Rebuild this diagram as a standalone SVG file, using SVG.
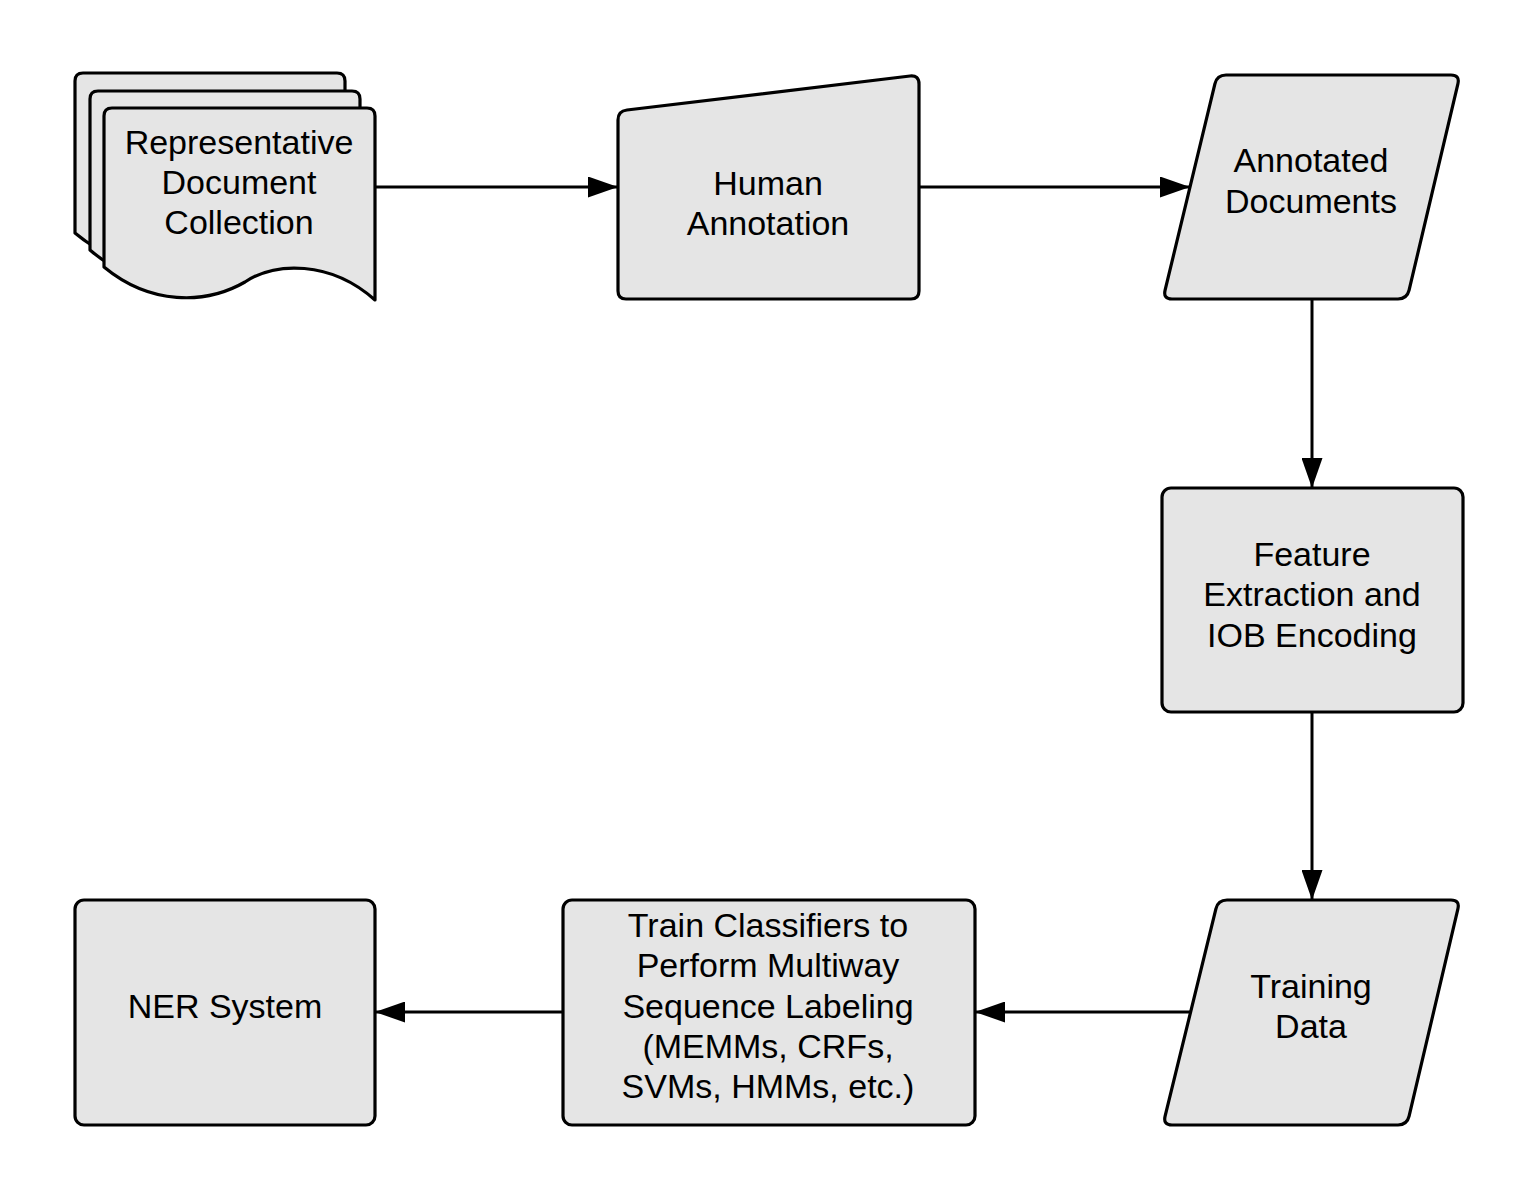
<svg xmlns="http://www.w3.org/2000/svg" width="1538" height="1200" viewBox="0 0 1538 1200">
<style>
.s{fill:#e5e5e5;stroke:#000;stroke-width:3.2;stroke-linejoin:round}
.t{font-family:"Liberation Sans",Arial,sans-serif;font-size:34px;fill:#000;text-anchor:middle}
.c{fill:none;stroke:#000;stroke-width:3}
</style>
<defs>
<marker id="ah" markerUnits="userSpaceOnUse" markerWidth="30" markerHeight="21" refX="30" refY="10.5" orient="auto">
<path d="M0,0 L30,10.5 L0,21 Z" fill="#000"/>
</marker>
</defs>
<rect width="1538" height="1200" fill="#fff"/>
<g id="connectors">
<path class="c" d="M375,187 L618,187" marker-end="url(#ah)"/>
<path class="c" d="M919,187 L1190,187" marker-end="url(#ah)"/>
<path class="c" d="M1312,299 L1312,488" marker-end="url(#ah)"/>
<path class="c" d="M1312,712 L1312,900" marker-end="url(#ah)"/>
<path class="c" d="M1190,1012 L975,1012" marker-end="url(#ah)"/>
<path class="c" d="M563,1012 L375,1012" marker-end="url(#ah)"/>
</g>
<g id="node-docs">
<path class="s" d="M75,233 L75,81 Q75,73 83,73 L337,73 Q345,73 345,81 L345,265 C300,227 245,228 215,248 C175,271 120,271 75,233 Z"/>
<path class="s" d="M90,250 L90,99 Q90,91 98,91 L352,91 Q360,91 360,99 L360,283 C315,245 260,246 230,266 C190,289 135,289 90,250 Z"/>
<path class="s" d="M104,267 L104,116 Q104,108 112,108 L367,108 Q375,108 375,116 L375,300 C330,260 275,262 245,282 C205,305 150,305 104,267 Z"/>
<text class="t" x="239" y="154">Representative</text>
<text class="t" x="239" y="194">Document</text>
<text class="t" x="239" y="234">Collection</text>
</g>
<g id="node-human">
<path class="s" d="M618,120 Q618,111 627,110 L910,76 Q919,75 919,84 L919,291 Q919,299 911,299 L626,299 Q618,299 618,291 Z"/>
<text class="t" x="768" y="195">Human</text>
<text class="t" x="768" y="235">Annotation</text>
</g>
<g id="node-annotated">
<path class="s" d="M1226,75 L1451,75 Q1460,75 1457.9,83.8 L1409.1,290.2 Q1407,299 1398,299 L1172,299 Q1163,299 1165.1,290.2 L1214.9,83.8 Q1217,75 1226,75 Z"/>
<text class="t" x="1311" y="172">Annotated</text>
<text class="t" x="1311" y="213">Documents</text>
</g>
<g id="node-feature">
<rect class="s" x="1162" y="488" width="301" height="224" rx="9"/>
<text class="t" x="1312" y="566">Feature</text>
<text class="t" x="1312" y="606">Extraction and</text>
<text class="t" x="1312" y="647">IOB Encoding</text>
</g>
<g id="node-training">
<path class="s" d="M1227,900 L1451,900 Q1460,900 1457.9,908.8 L1409.1,1116.2 Q1407,1125 1398,1125 L1172,1125 Q1163,1125 1165.1,1116.2 L1215.9,908.8 Q1218,900 1227,900 Z"/>
<text class="t" x="1311" y="998">Training</text>
<text class="t" x="1311" y="1038">Data</text>
</g>
<g id="node-train">
<rect class="s" x="563" y="900" width="412" height="225" rx="9"/>
<text class="t" x="768" y="937">Train Classifiers to</text>
<text class="t" x="768" y="977">Perform Multiway</text>
<text class="t" x="768" y="1018">Sequence Labeling</text>
<text class="t" x="768" y="1058">(MEMMs, CRFs,</text>
<text class="t" x="768" y="1098">SVMs, HMMs, etc.)</text>
</g>
<g id="node-ner">
<rect class="s" x="75" y="900" width="300" height="225" rx="9"/>
<text class="t" x="225" y="1018">NER System</text>
</g>
</svg>
